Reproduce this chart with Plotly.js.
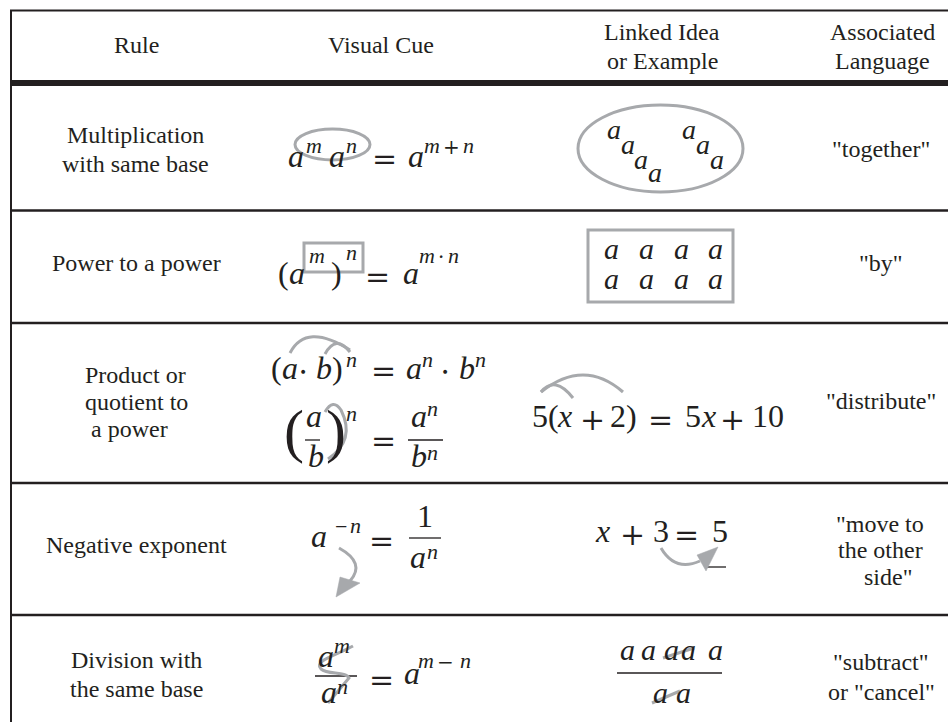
<!DOCTYPE html>
<html>
<head>
<meta charset="utf-8">
<script src="https://cdn.plot.ly/plotly-3.0.1.min.js"></script>
<style>
  html, body { margin: 0; padding: 0; background: #ffffff; }
  #plot { width: 948px; height: 722px; }
</style>
</head>
<body>
<div id="plot"></div>
<script>
// ---------- table content ----------
const headers  = ["Rule", "Visual Cue", "Linked Idea<br>or Example", "Associated<br>Language"];
const rules    = ["Multiplication<br>with same base", "Power to a power",
                  "Product or<br>quotient to<br>a power", "Negative exponent",
                  "Division with<br>the same base"];
const language = ['"together"', '"by"', '"distribute"',
                  '"move to<br>the other<br>side"', '"subtract"<br>or "cancel"'];

// formula tokens (text only)
const cueMult    = ["a", "m", "a", "n", "=", "a", "m", "+", "n"];
const cuePower   = ["(", "a", "m", ")", "n", "=", "a", "m", "\u00b7", "n"];
const cueProduct = ["(", "a", "\u22c5", "b", ")", "n", "=", "a", "n", "\u22c5", "b", "n"];
const cueQuot    = ["(", "a", "b", ")", "n", "=", "a", "n", "b", "n"];
const cueNeg     = ["a", "\u2212", "n", "=", "1", "a", "n"];
const cueDiv     = ["a", "m", "a", "n", "=", "a", "m", "\u2212", "n"];
const exGroup    = ["a", "a", "a", "a", "a", "a", "a"];
const exGrid     = ["a", "a", "a", "a", "a", "a", "a", "a"];
const exDistrib  = ["5(", "x", "+", "2)", "=", "5", "x", "+", "10"];
const exMove     = ["x", "+", "3", "=", "5"];
const exCancelTop = ["a", "a", "a", "a", "a"];
const exCancelBot = ["a", "a"];

// ---------- drawing helpers ----------
const INK = "#231f20", GRAY = "#a7a9ac";
const LS = "Liberation Serif";
const DV = "DejaVu Serif";
const annotations = [], shapes = [];

const KIND = {
  T:  {fam: LS, size: 24, it: false, anchor: "center", mode: "base"},
  B:  {fam: LS, size: 32, it: true,  anchor: "left",   mode: "base"},
  S:  {fam: LS, size: 22, it: true,  anchor: "left",   mode: "base"},
  A:  {fam: LS, size: 30, it: true,  anchor: "left",   mode: "base"},
  G:  {fam: LS, size: 28, it: true,  anchor: "left",   mode: "base"},
  U:  {fam: LS, size: 32, it: false, anchor: "left",   mode: "base"},
  O:  {fam: DV, size: 30, it: false, anchor: "center", mode: "center"},
  SO: {fam: DV, size: 20, it: false, anchor: "center", mode: "center"},
  SM: {fam: LS, size: 22, it: false, anchor: "center", mode: "center"},
  P:  {fam: LS, size: 60, it: false, anchor: "left",   mode: "paren"}
};
function put(text, x, y, kind) {
  const k = KIND[kind];
  let yy = y;
  if (k.mode === "base") yy = y - 0.3375 * k.size;
  else if (k.mode === "paren") yy = y - 5.2;
  annotations.push({
    text: k.it ? "<i>" + text + "</i>" : text,
    x: x, y: yy, xref: "x", yref: "y",
    xanchor: k.anchor, yanchor: "middle",
    showarrow: false, borderpad: 0,
    font: {family: k.fam, size: k.size, color: INK}
  });
}
function lines(str, cx, firstBase, step, shifts) {
  str.split("<br>").forEach((s, i) => put(s, cx + ((shifts && shifts[i]) || 0), firstBase + i * step, "T"));
}
function tokens(arr, place) { arr.forEach((t, i) => put(t, place[i][0], place[i][1], place[i][2])); }
function hline(x0, x1, y, w, c) {
  shapes.push({type: "line", xref: "x", yref: "y", x0: x0, x1: x1, y0: y, y1: y, line: {color: c || INK, width: w}});
}
function vline(x, y0, y1, w) {
  shapes.push({type: "line", xref: "x", yref: "y", x0: x, x1: x, y0: y0, y1: y1, line: {color: INK, width: w}});
}
function gpath(d, fill) {
  shapes.push({type: "path", xref: "x", yref: "y", path: d,
    line: {color: GRAY, width: fill ? 0.5 : 3}, fillcolor: fill ? GRAY : "rgba(0,0,0,0)"});
}
function gshape(type, x0, x1, y0, y1) {
  shapes.push({type: type, xref: "x", yref: "y", x0: x0, x1: x1, y0: y0, y1: y1,
    line: {color: GRAY, width: 3}, fillcolor: "rgba(0,0,0,0)"});
}

// ---------- table frame ----------
hline(10, 948, 10.5, 2);
vline(11, 10, 722, 2);
hline(10, 948, 83, 6);
[210.5, 323, 483, 615].forEach(y => hline(10, 948, y, 2.5));

// ---------- header ----------
lines(headers[0], 136, 53, 29);
lines(headers[1], 381, 53, 29);
lines(headers[2], 662, 40, 29);
lines(headers[3], 882, 40, 29);

// ---------- rule column ----------
lines(rules[0], 135, 143, 29);
lines(rules[1], 136, 271, 29);
lines(rules[2], 135, 383, 27, [0, 1, -6]);
lines(rules[3], 136, 553, 29);
lines(rules[4], 136, 668, 29);

// ---------- language column ----------
lines(language[0], 881, 157, 29);
lines(language[1], 881, 271, 29);
lines(language[2], 881, 409, 29);
lines(language[3], 880, 532, 26.5, [0, 0, 8]);
lines(language[4], 881, 670, 30);

// ---------- visual cues ----------
gshape("circle", 295, 370, 129, 160);
tokens(cueMult, [[287,167,"B"],[305,153,"S"],[328,167,"B"],[345,153,"S"],[384,158,"O"],
                 [407,167,"B"],[423,153,"S"],[451,147,"SO"],[462,153,"S"]]);

gshape("rect", 304, 363, 243, 272);
tokens(cuePower, [[277,284,"U"],[288,284,"B"],[308,263,"S"],[330,284,"U"],[345,260,"S"],
                  [377,276,"O"],[402,284,"B"],[418,263,"S"],[441,257,"SO"],[447,263,"S"]]);

tokens(cueProduct, [[270,379,"U"],[281,379,"B"],[303,371,"O"],[315,379,"B"],[331,379,"U"],
                    [345,367,"S"],[383,370,"O"],[405,379,"B"],[421,367,"S"],[445,371,"O"],
                    [458,379,"B"],[474,367,"S"]]);
gpath("M 290 353 Q 306 322 350 350");
gpath("M 325 354 Q 336 334 350 352");

tokens(cueQuot, [[283,436,"P"],[305,427,"B"],[307,467,"B"],[325,436,"P"],[345,421,"S"],
                 [383,440,"O"],[410,427,"B"],[426,416,"S"],[410,467,"B"],[426,460,"S"]]);
hline(305, 320, 440, 1.3);
hline(408, 443, 440, 1.3);
gpath("M 325 412 Q 333 398 341 410 Q 356 440 328 459");

tokens(cueNeg, [[310,547,"B"],[341,526,"SM"],[349,533,"S"],[381,540,"O"],[416,527,"U"],
                [409,568,"B"],[426,559,"S"]]);
hline(409, 441, 538, 1.3);
gpath("M 339 548 Q 366 563 350 581");
gpath("M 336 597 L 340 577 L 360 583 Z", true);

tokens(cueDiv, [[317,667,"B"],[333,653,"S"],[320,703,"B"],[336,694,"S"],[381,679,"O"],
                [403,684,"B"],[417,668,"S"],[445,662,"SO"],[459,668,"S"]]);
hline(315, 357, 676, 1.3);
gpath("M 353 646 C 335 656 313 661 321 669 C 328 675 346 671 349 678 L 328 703");

// ---------- linked ideas ----------
gshape("circle", 578, 743, 105, 192);
const groupCenters = [[613,132],[627,147],[640,162],[654,175],[688,132],[702,147],[716,162]];
tokens(exGroup, groupCenters.map(c => [c[0] - 7, c[1] + 6.5, "G"]));

gshape("rect", 588, 733, 230, 302);
const gridX = [610, 645, 680, 714], gridY = [252, 282];
tokens(exGrid, exGrid.map((t, i) => [gridX[i % 4] - 7.5, gridY[Math.floor(i / 4)] + 7, "A"]));

tokens(exDistrib, [[531,427,"U"],[556,427,"B"],[592,419,"O"],[609,427,"U"],[660,419,"O"],
                   [684,427,"U"],[700,427,"B"],[732,419,"O"],[751,427,"U"]]);
gpath("M 541 392 Q 584 358 623 392");
gpath("M 541 392 Q 555 375 573 398");

tokens(exMove, [[594,542,"B"],[632,534,"O"],[652,542,"U"],[686,534,"O"],[711,542,"U"]]);
hline(707, 726, 567, 1.3);
gpath("M 661 548 Q 675 572 700 561");
gpath("M 718 547 L 697 555 L 706 571 Z", true);

tokens(exCancelTop, [[619,660,"A"],[640,660,"A"],[663,660,"A"],[680,660,"A"],[707,660,"A"]]);
hline(617, 722, 673, 1.3);
tokens(exCancelBot, [[652,703,"A"],[675,703,"A"]]);
gpath("M 663 658 L 694 648");
gpath("M 652 703 L 680 691");

// ---------- render ----------
const layout = {
  width: 948, height: 722,
  margin: {l: 0, r: 0, t: 0, b: 0, pad: 0},
  paper_bgcolor: "#ffffff", plot_bgcolor: "#ffffff",
  showlegend: false,
  xaxis: {range: [0, 948], visible: false, fixedrange: true},
  yaxis: {range: [722, 0], visible: false, fixedrange: true},
  shapes: shapes,
  annotations: annotations
};
Plotly.newPlot("plot", [{type: "scatter", x: [], y: [], mode: "markers", hoverinfo: "skip"}], layout,
               {staticPlot: true, displayModeBar: false});
</script>
</body>
</html>
